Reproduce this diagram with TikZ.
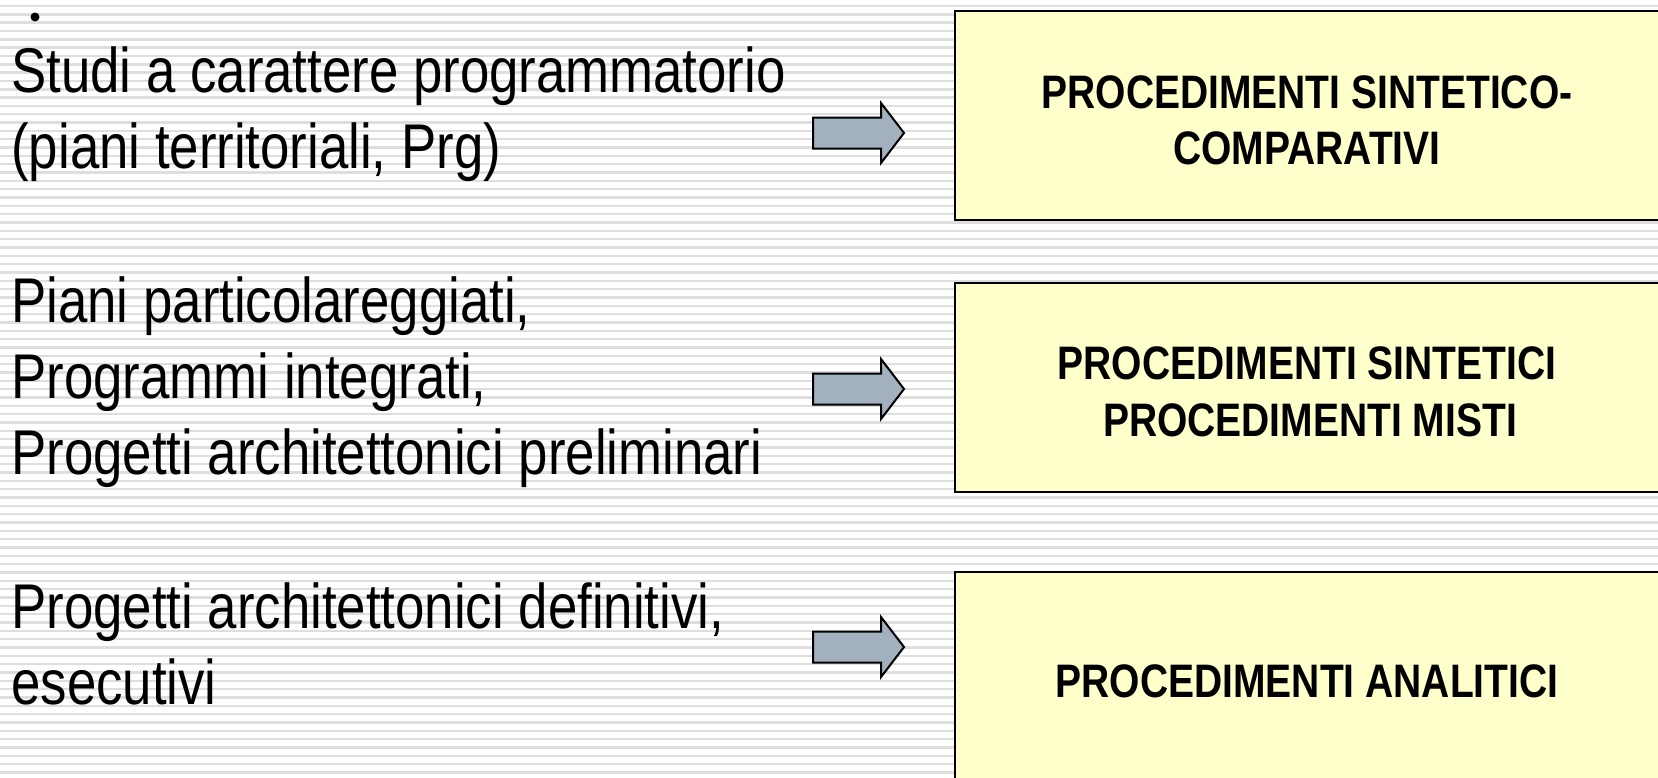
\documentclass[tikz,border=0pt]{standalone}
\usepackage{fontspec}
\setmainfont{Liberation Sans}[FakeStretch=0.83]
\newfontfamily\leftfont{Liberation Sans}[FakeStretch=0.835]
\definecolor{boxfill}{HTML}{FFFFCC}
\definecolor{arrowfill}{HTML}{A3B1BF}
\definecolor{stripe}{HTML}{DEDEDE}
\tikzset{
  lefttext/.style={anchor=base west, inner sep=0pt, font=\leftfont\fontsize{31.6pt}{38pt}\selectfont},
  boxtext/.style={anchor=base, inner sep=0pt, font=\fontsize{23.5pt}{28pt}\selectfont\bfseries},
  procbox/.style={draw=black, line width=1pt, fill=boxfill, rectangle, inner sep=0pt,
    minimum width=355pt, minimum height=104.5pt},
  blockarrow/.style={draw=black, line width=1pt, fill=arrowfill, line join=miter}
}
\begin{document}
\begin{tikzpicture}[x=0.5pt,y=-0.5pt]
\useasboundingbox (0,0) rectangle (1658,777);
\clip (0,0) rectangle (1658,777);
\fill[white] (0,0) rectangle (1658,777);
% stripes
\foreach \i in {0,...,93}{
  \draw[stripe, line width=1.2pt] (0,{6+8.33*\i}) -- (1658,{6+8.33*\i});
}
% bullet dot
\fill[black] (35,17) circle (4.5);
% left texts
\node[lefttext] (t1a) at (11,92) {Studi a carattere programmatorio};
\node[lefttext] (t1b) at (11,168) {(piani territoriali, Prg)};
\node[lefttext] (t2a) at (11,322) {Piani particolareggiati,};
\node[lefttext] (t2b) at (11,398) {Programmi integrati,};
\node[lefttext] (t2c) at (11,474) {Progetti architettonici preliminari};
\node[lefttext] (t3a) at (11,628) {Progetti architettonici definitivi,};
\node[lefttext] (t3b) at (11,704) {esecutivi};
% arrows
\foreach \cy/\nm in {133/a1,389/a2,647/a3}{
  \draw[blockarrow] (813,\cy-15.5) -- (881,\cy-15.5) -- (881,\cy-30) -- (904,\cy)
     -- (881,\cy+30) -- (881,\cy+15.5) -- (813,\cy+15.5) -- cycle;
  \coordinate (\nm) at (858,\cy);
}
% boxes
\node[procbox] (b1) at (1310,115.5) {};
\node[procbox] (b2) at (1310,387.5) {};
\node[procbox] (b3) at (1310,676.5) {};
\node[boxtext] (b1a) at (1307,108) {PROCEDIMENTI SINTETICO-};
\node[boxtext] (b1b) at (1307,164) {COMPARATIVI};
\node[boxtext] (b2a) at (1307,379) {PROCEDIMENTI SINTETICI};
\node[boxtext] (b2b) at (1310,436) {PROCEDIMENTI MISTI};
\node[boxtext] (b3a) at (1307,697) {PROCEDIMENTI ANALITICI};
\end{tikzpicture}
\end{document}
